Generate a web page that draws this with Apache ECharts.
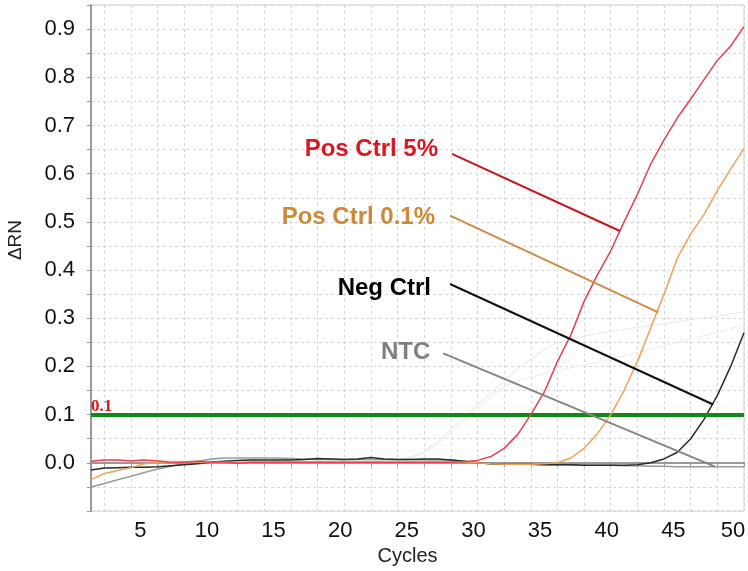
<!DOCTYPE html>
<html>
<head>
<meta charset="utf-8">
<script src="https://cdn.jsdelivr.net/npm/echarts@6/dist/echarts.min.js"></script>
<style>html,body{margin:0;padding:0;background:#fff;}#c{width:748px;height:571px;}</style>
</head>
<body>
<div id="c"></div>
<script>
const cycles = Array.from({length: 50}, (_, i) => i + 1);
const xLabelValues = [5, 10, 15, 20, 25, 30, 35, 40, 45, 50];
const xTickValues = [2,4,6,8,10,12,14,16,18,20,22,24,26,28,30,32,34,36,38,40,42,44,46,48,50];

const posCtrl5 = [0.003,0.006,0.006,0.004,0.006,0.004,0.001,0.001,0.003,0.001,
  0.002,-0.001,0.001,0.001,0.001,0.001,0.001,0.001,0.001,0.001,
  0.001,0.001,0.001,0.001,0.001,0.001,0.001,0.001,0.002,0.005,
  0.013,0.030,0.058,0.100,0.146,0.210,0.265,0.335,0.390,0.440,
  0.500,0.557,0.620,0.670,0.716,0.755,0.795,0.835,0.865,0.905];
const posCtrl01 = [-0.035,-0.022,-0.016,-0.010,-0.002,0.000,0.000,0.002,0.001,0.000,
  0.001,0.001,0.001,0.001,0.001,0.001,0.001,0.001,0.001,0.001,
  0.001,0.001,0.001,0.001,0.001,0.001,0.001,0.001,0.001,0.000,
  -0.002,-0.003,-0.003,-0.003,-0.002,0.000,0.010,0.030,0.060,0.100,
  0.150,0.210,0.280,0.350,0.425,0.475,0.515,0.565,0.610,0.652];
const negCtrl = [-0.015,-0.011,-0.010,-0.009,-0.009,-0.008,-0.006,-0.004,-0.002,0.001,
  0.003,0.005,0.006,0.006,0.006,0.006,0.007,0.009,0.008,0.007,
  0.008,0.011,0.008,0.007,0.007,0.008,0.008,0.006,0.003,0.000,
  -0.002,-0.003,-0.003,-0.003,-0.004,-0.004,-0.004,-0.005,-0.005,-0.005,
  -0.005,-0.004,0.000,0.008,0.022,0.050,0.090,0.140,0.200,0.270];
const ntc = [-0.050,-0.043,-0.035,-0.028,-0.020,-0.013,-0.007,-0.002,0.003,0.008,
  0.010,0.010,0.010,0.010,0.010,0.009,0.008,0.007,0.007,0.007,
  0.007,0.007,0.007,0.007,0.007,0.006,0.006,0.006,0.003,0.000,
  -0.002,-0.003,-0.003,-0.003,-0.004,-0.004,-0.004,-0.005,-0.005,-0.005,
  -0.006,-0.006,-0.007,-0.007,-0.008,-0.008,-0.008,-0.008,-0.008,-0.008];
const ghostA = [0.005,0.005,0.005,0.005,0.005,0.005,0.005,0.005,0.005,0.005,
  0.005,0.005,0.005,0.005,0.005,0.005,0.005,0.005,0.005,0.005,
  0.005,0.005,0.005,0.005,0.012,0.025,0.045,0.070,0.095,0.120,
  0.145,0.170,0.195,0.215,0.235,0.250,0.257,0.263,0.268,0.273,
  0.277,0.281,0.285,0.289,0.293,0.297,0.301,0.305,0.309,0.313];
const ghostB = [0.005,0.005,0.005,0.005,0.005,0.005,0.005,0.005,0.005,0.005,
  0.005,0.005,0.005,0.005,0.005,0.005,0.005,0.005,0.005,0.005,
  0.005,0.005,0.005,0.005,0.010,0.020,0.040,0.063,0.088,0.112,
  0.137,0.158,0.170,0.178,0.185,0.192,0.197,0.203,0.209,0.215,
  0.222,0.229,0.236,0.243,0.250,0.257,0.264,0.271,0.278,0.287];
const threshold = 0.1;

const annotationNames = ['Pos Ctrl 5%', 'Pos Ctrl 0.1%', 'Neg Ctrl', 'NTC'];
const annotationStart = [[28.09, 0.641], [27.94, 0.513], [27.94, 0.371], [27.43, 0.227]];
const annotationEnd = [[40.69, 0.481], [43.57, 0.312], [47.69, 0.121], [47.82, -0.008]];
const annotationTextColors = ['#e0141e', '#cf8738', '#000000', '#808080'];
const annotationLineColors = ['#c8141c', '#cf8a45', '#111111', '#858585'];
const annotationLabelOffsets = [[0, -5], [0, 2], [0, 4], [0, -1]];
const annotationLabelDistances = [14, 15, 19, 13];

const pair = arr => cycles.map((c, i) => [c, arr[i]]);
const FONT = 'Liberation Sans, Arial, sans-serif';

const chart = echarts.init(document.getElementById('c'), null, {renderer: 'canvas'});
function lineSeries(name, arr, color, width, z) {
  return {name, type: 'line', data: pair(arr), showSymbol: false, symbol: 'none',
    lineStyle: {color, width}, z, silent: true};
}
const series = [
  lineSeries('ghostA', ghostA, '#ececec', 1.2, 2),
  lineSeries('ghostB', ghostB, '#efefef', 1.2, 2),
  lineSeries('NTC', ntc, '#9a9a9a', 1.5, 3),
  lineSeries('Neg Ctrl', negCtrl, '#2a2a2a', 1.5, 4),
  lineSeries('Pos Ctrl 0.1%', posCtrl01, '#f4a055', 1.5, 5),
  Object.assign(lineSeries('Pos Ctrl 5%', posCtrl5, '#e8404a', 1.5, 6), {
    markLine: {
      silent: true, symbol: 'none', animation: false,
      data: [{yAxis: threshold}],
      lineStyle: {color: '#108a10', width: 4, type: 'solid'},
      label: {show: true, position: 'insideStartTop', formatter: '0.1', distance: [0, 0],
        color: '#d41c1c', fontFamily: 'Liberation Serif, serif', fontWeight: 'bold', fontSize: 17}
    }
  }),
  {
    type: 'lines', coordinateSystem: 'cartesian2d', z: 7, silent: true,
    data: annotationNames.map((n, i) => ({coords: [annotationStart[i], annotationEnd[i]],
      lineStyle: {color: annotationLineColors[i], width: 2, opacity: 1}})),
    lineStyle: {width: 2, opacity: 1}
  },
  {
    type: 'scatter', z: 8, silent: true, symbolSize: 0,
    itemStyle: {opacity: 1},
    data: annotationNames.map((n, i) => ({value: annotationStart[i], name: n,
      label: {color: annotationTextColors[i], offset: annotationLabelOffsets[i],
        distance: annotationLabelDistances[i]}})),
    label: {show: true, position: 'left', formatter: p => p.name,
      fontFamily: FONT, fontWeight: 'bold', fontSize: 24, opacity: 1}
  }
];

chart.setOption({
  animation: false,
  grid: {left: 91, right: 4, top: 5, bottom: 60, show: true, borderColor: '#cfcfcf', borderWidth: 1,
    containLabel: false, outerBoundsMode: 'none'},
  xAxis: {
    type: 'value', min: 1, max: 50,
    name: 'Cycles', nameLocation: 'middle', nameGap: 34,
    nameTextStyle: {fontFamily: FONT, fontSize: 20, color: '#222', padding: [0, 20, 0, 0]},
    axisLine: {lineStyle: {color: '#999', width: 2}},
    axisTick: {show: true, customValues: xTickValues, length: 4, lineStyle: {color: '#999'}},
    axisLabel: {customValues: xLabelValues, fontFamily: FONT, fontSize: 22, color: '#111', margin: 9,
      padding: [0, 8, 0, 0],
      formatter: v => v === 50 ? '{e|50}' : String(v),
      rich: {e: {fontFamily: FONT, fontSize: 22, color: '#111', padding: [0, 14, 0, 0]}}},
    splitLine: {show: true, lineStyle: {color: '#d6d6d6', type: [3, 3], width: 1}}
  },
  yAxis: {
    type: 'value', min: -0.1, max: 0.95, interval: 0.05,
    name: 'ΔRN', nameLocation: 'middle', nameGap: 66, nameRotate: 90,
    nameTextStyle: {fontFamily: FONT, fontSize: 19, color: '#222', padding: [0, 0, 0, 36]},
    axisLine: {show: true, lineStyle: {color: '#999', width: 2}},
    axisTick: {show: true, length: 4, lineStyle: {color: '#999'}},
    axisLabel: {fontFamily: FONT, fontSize: 22, color: '#111', margin: 16,
      formatter: v => { const k = Math.round(v * 100); return (k < 0 || k % 10 !== 0) ? '' : (k / 100).toFixed(1); }},
    splitLine: {show: true, lineStyle: {color: '#d6d6d6', type: [3, 3], width: 1}}
  },
  series
});
</script>
</body>
</html>
